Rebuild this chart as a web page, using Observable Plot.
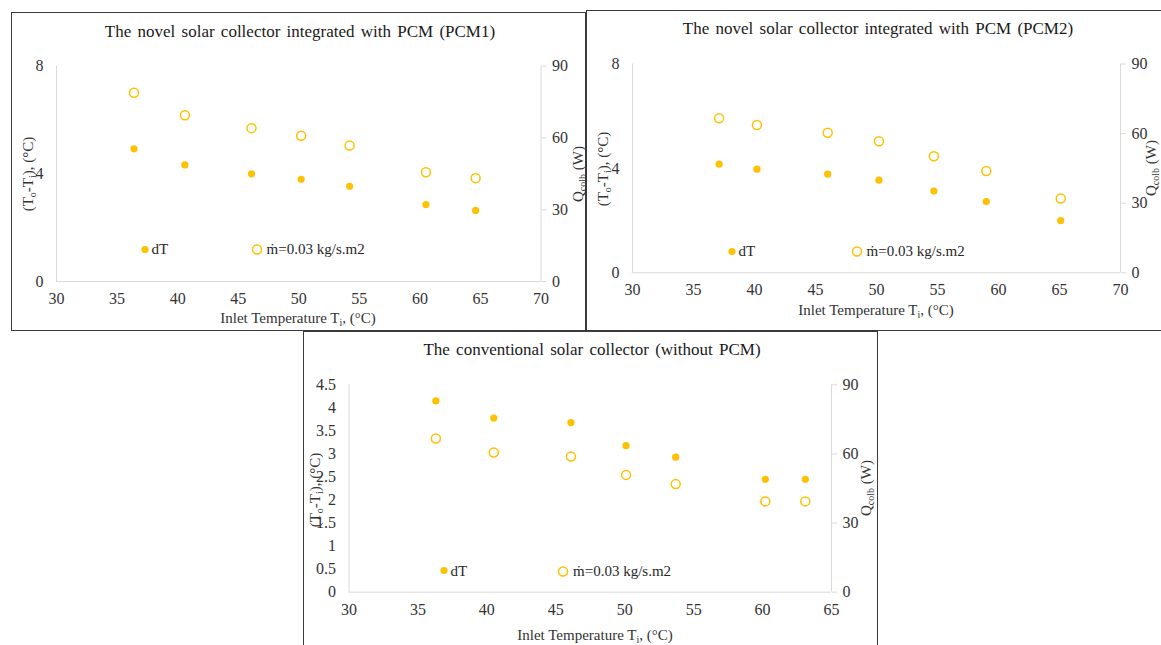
<!DOCTYPE html>
<html>
<head>
<meta charset="utf-8">
<script src="https://cdn.jsdelivr.net/npm/d3@7"></script>
<script src="https://cdn.jsdelivr.net/npm/@observablehq/plot@0.6"></script>
<style>
  html, body { margin: 0; padding: 0; background: #fff; }
  body { width: 1161px; height: 645px; position: relative; overflow: hidden;
         font-family: "Liberation Serif", "Times New Roman", serif; color: #262626; }
  .layer { position: absolute; left: 0; top: 0; }
  svg.layer, svg.layer text { font-family: "Liberation Serif", "Times New Roman", serif !important; }
  .frame { position: absolute; box-sizing: border-box; border: 1.5px solid #3a3a3a; }
  .txt { position: absolute; white-space: nowrap; transform: translate(-50%, -50%); }
  .rot { transform: translate(-50%, -50%) rotate(-90deg); }
  .title { font-size: 17px; color: #1a1a1a; word-spacing: 2px; }
  .atitle { font-size: 15px; color: #333; }
  .atitle sub { font-size: 10px; vertical-align: -3px; line-height: 0; }
  .leg { position: absolute; font-size: 15px; color: #262626; white-space: nowrap;
         transform: translateY(-50%); display: flex; align-items: center; }
  .leg svg { margin-right: 3px; }
</style>
</head>
<body>
<div id="root"></div>
<script>
// ---------- data ----------
const pcm1Ti = [36.4, 40.6, 46.1, 50.2, 54.2, 60.5, 64.6];
const pcm1dT = [4.93, 4.33, 4.0, 3.80, 3.54, 2.86, 2.64];
const pcm1Q  = [78.9, 69.5, 64.1, 60.9, 56.8, 45.7, 43.2];

const pcm2Ti = [37.1, 40.2, 46.0, 50.2, 54.7, 59.0, 65.1];
const pcm2dT = [4.16, 3.97, 3.78, 3.55, 3.13, 2.73, 2.0];
const pcm2Q  = [66.6, 63.7, 60.4, 56.7, 50.2, 43.9, 32.0];

const convTi = [36.3, 40.5, 46.1, 50.1, 53.7, 60.2, 63.1];
const convdT = [4.15, 3.78, 3.68, 3.18, 2.93, 2.45, 2.45];
const convQ  = [66.7, 60.6, 58.9, 50.9, 46.9, 39.4, 39.4];

const xTicksPCM  = [30, 35, 40, 45, 50, 55, 60, 65, 70];
const xTicksConv = [30, 35, 40, 45, 50, 55, 60, 65];
const yTicksPCM  = [0, 4, 8];
const yTicksConv = [0, 0.5, 1, 1.5, 2, 2.5, 3, 3.5, 4, 4.5];
const qTicks     = [0, 30, 60, 90];

const titles = [
  "The novel solar collector integrated with PCM (PCM1)",
  "The novel solar collector integrated with PCM (PCM2)",
  "The conventional solar collector (without PCM)"
];
const legendDT = "dT";
const legendQ  = "ṁ=0.03 kg/s.m2";

const GOLD = "#FFC000";
const AXIS = "#d9d9d9";
const FONT = "Liberation Serif";
const W = 1161, H = 645;

// ---------- layout ----------
const panels = [
  { ti: pcm1Ti, dT: pcm1dT, q: pcm1Q, xDomain: [30, 70], xTicks: xTicksPCM, yDomain: [0, 8], yTicks: yTicksPCM,
    x0: 56, x1: 540.5, y0: 65.7, y1: 281,
    frame: [11, 12, 586, 331],
    title: [300, 31.5], xt: [298, 318], lt: [28, 174], rt: [578, 174],
    leg1: [144.5, 249], leg2: [256.6, 249] },
  { ti: pcm2Ti, dT: pcm2dT, q: pcm2Q, xDomain: [30, 70], xTicks: xTicksPCM, yDomain: [0, 8], yTicks: yTicksPCM,
    x0: 632, x1: 1120, y0: 63.5, y1: 272.3,
    frame: [586, 10, 1175, 331],
    title: [878, 29], xt: [876, 310], lt: [603, 169], rt: [1151, 168],
    leg1: [731.5, 251], leg2: [856.6, 251] },
  { ti: convTi, dT: convdT, q: convQ, xDomain: [30, 65], xTicks: xTicksConv, yDomain: [0, 4.5], yTicks: yTicksConv,
    x0: 348.5, x1: 831, y0: 384.3, y1: 591.7,
    frame: [303, 331, 878, 670],
    title: [592, 350], xt: [595, 635], lt: [315, 490], rt: [866, 488],
    leg1: [443.6, 570.7], leg2: [563, 571] }
];

const root = document.getElementById("root");
const style = { fontFamily: FONT, fontSize: "16px", color: "#333", background: "transparent", overflow: "visible" };

function addDiv(cls, html, x, y) {
  const d = document.createElement("div");
  d.className = cls;
  d.innerHTML = html;
  d.style.left = x + "px";
  d.style.top = y + "px";
  root.appendChild(d);
  return d;
}

function swatch(filled) {
  return filled
    ? `<svg width="8" height="8"><circle cx="4" cy="4" r="3.6" fill="${GOLD}"/></svg>`
    : `<svg width="12" height="12"><circle cx="6" cy="6" r="4.5" fill="#fff" stroke="${GOLD}" stroke-width="1.5"/></svg>`;
}

const fmt = d => `${d}`;

panels.forEach((p, i) => {
  const rows = p.ti.map((t, k) => ({ ti: t, dT: p.dT[k], q: p.q[k] }));
  const margins = { marginLeft: p.x0, marginRight: W - p.x1, marginTop: p.y0, marginBottom: H - p.y1 };

  // frame
  const f = document.createElement("div");
  f.className = "frame";
  f.style.left = p.frame[0] + "px"; f.style.top = p.frame[1] + "px";
  f.style.width = (p.frame[2] - p.frame[0]) + "px"; f.style.height = (p.frame[3] - p.frame[1]) + "px";
  root.appendChild(f);

  // left-axis layer (dT)
  const a = Plot.plot({
    width: W, height: H, ...margins, style,
    x: { domain: p.xDomain },
    y: { domain: p.yDomain },
    marks: [
      Plot.ruleX([p.xDomain[0]], { stroke: AXIS }),
      Plot.ruleY([0], { stroke: AXIS }),
      Plot.axisX({ ticks: p.xTicks, tickFormat: fmt, tickSize: 0, tickPadding: 11, label: null, fontSize: 16, fontFamily: FONT, fill: "#333" }),
      Plot.axisY({ ticks: p.yTicks, tickFormat: fmt, tickSize: 0, tickPadding: 13, label: null, fontSize: 16, fontFamily: FONT, fill: "#333" }),
      Plot.dot(rows, { x: "ti", y: "dT", r: 3.6, fill: GOLD, stroke: null })
    ]
  });
  a.classList.add("layer");
  root.appendChild(a);

  // right-axis layer (Q)
  const b = Plot.plot({
    width: W, height: H, ...margins, style,
    x: { domain: p.xDomain, axis: null },
    y: { domain: [0, 90] },
    marks: [
      Plot.ruleX([p.xDomain[1]], { stroke: AXIS }),
      Plot.axisY({ anchor: "right", ticks: qTicks, tickFormat: fmt, tickSize: 5, tickPadding: 6, stroke: AXIS, label: null, fontSize: 16, fontFamily: FONT, fill: "#333" }),
      Plot.dot(rows, { x: "ti", y: "q", r: 4.5, fill: "#fff", stroke: GOLD, strokeWidth: 1.5 })
    ]
  });
  b.classList.add("layer");
  root.appendChild(b);

  // texts
  addDiv("txt title", titles[i], p.title[0], p.title[1]);
  addDiv("txt atitle", "Inlet Temperature T<sub>i</sub>, (°C)", p.xt[0], p.xt[1]);
  addDiv("txt rot atitle", "(T<sub>o</sub>-T<sub>i</sub>), (°C)", p.lt[0], p.lt[1]);
  addDiv("txt rot atitle", "Q<sub>colb</sub> (W)", p.rt[0], p.rt[1]);

  addDiv("leg", swatch(true) + legendDT, p.leg1[0] - 4, p.leg1[1]);
  const l2 = addDiv("leg", swatch(false) + legendQ, p.leg2[0] - 6, p.leg2[1]);
  l2.querySelector("svg").style.marginRight = "4px";
});
</script>
</body>
</html>
